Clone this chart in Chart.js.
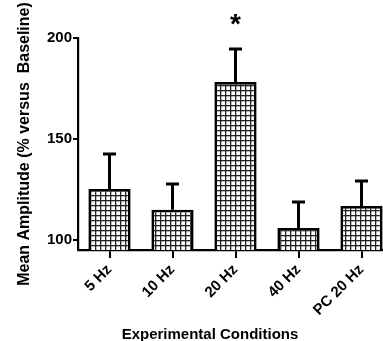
<!DOCTYPE html>
<html>
<head>
<meta charset="utf-8">
<script src="https://cdn.jsdelivr.net/npm/chart.js@4"></script>
<style>
    html, body { margin: 0; padding: 0; background: #fff; overflow: hidden; }
    #wrap { width: 383px; height: 341px; overflow: hidden; }
</style>
</head>
<body>
<div id="wrap"><canvas id="myChart" width="420" height="341"></canvas></div>
<script>
// data
const conditions = ["5 Hz", "10 Hz", "20 Hz", "40 Hz", "PC 20 Hz"];
const meanAmplitude = [125.2, 114.9, 178.2, 105.9, 116.8];
const errorUp = [17.4, 12.8, 16.4, 12.9, 12.4];
const significance = ["", "", "*", "", ""];
const yTicks = [100, 150, 200];

const FONT = "'Liberation Sans', Arial, sans-serif";

// cross hatch fill for the bars
function gridPattern() {
    const c = document.createElement("canvas");
    c.width = 5;
    c.height = 5;
    const g = c.getContext("2d");
    g.fillStyle = "#fff";
    g.fillRect(0, 0, 5, 5);
    g.fillStyle = "#222";
    g.fillRect(0, 0, 5, 1.3);
    g.fillRect(0, 0, 1.3, 5);
    return g.createPattern(c, "repeat");
}

// error bars (upper only) plus the significance star
const errorBarPlugin = {
    id: "errorBars",
    afterDatasetsDraw(chart) {
        const ctx = chart.ctx;
        const yScale = chart.scales.y;
        const meta = chart.getDatasetMeta(0);
        ctx.save();
        ctx.strokeStyle = "#000";
        ctx.lineWidth = 3;
        meta.data.forEach((bar, i) => {
            const top = yScale.getPixelForValue(meanAmplitude[i] + errorUp[i]);
            ctx.beginPath();
            ctx.moveTo(bar.x, bar.y);
            ctx.lineTo(bar.x, top);
            ctx.moveTo(bar.x - 6.5, top);
            ctx.lineTo(bar.x + 6.5, top);
            ctx.stroke();
            if (significance[i]) {
                ctx.fillStyle = "#000";
                ctx.font = "bold 28px " + FONT;
                ctx.textAlign = "center";
                ctx.textBaseline = "middle";
                ctx.fillText(significance[i], bar.x, top - 24);
            }
        });
        ctx.restore();
    }
};

const ctx = document.getElementById("myChart").getContext("2d");
new Chart(ctx, {
    type: "bar",
    data: {
        labels: conditions,
        datasets: [{
            data: meanAmplitude,
            backgroundColor: gridPattern(),
            borderColor: "#000",
            borderWidth: 2.8,
            borderSkipped: false,
            categoryPercentage: 1,
            barPercentage: 0.67
        }]
    },
    options: {
        responsive: false,
        animation: false,
        // left/right padding also centres the bottom title under the plot like the original
        layout: { padding: { top: 38, right: 27, left: 27, bottom: 0 } },
        plugins: {
            legend: { display: false },
            tooltip: { enabled: false },
            title: {
                display: true,
                position: "bottom",
                text: "Experimental Conditions",
                color: "#000",
                font: { family: FONT, size: 15, weight: "bold", lineHeight: 1.2 },
                padding: { top: 0, bottom: -3 }
            }
        },
        scales: {
            x: {
                afterFit(s) { s.height = 76; },
                grid: {
                    offset: false,
                    drawOnChartArea: false,
                    color: "#000",
                    lineWidth: 2,
                    tickLength: 8
                },
                border: { display: true, color: "#000", width: 2.2 },
                ticks: {
                    color: "#000",
                    minRotation: 45,
                    maxRotation: 45,
                    padding: 3,
                    font: { family: FONT, size: 15, weight: "bold" }
                }
            },
            y: {
                min: 95,
                max: 200,
                afterFit(s) { s.width = 51; },
                afterBuildTicks(s) { s.ticks = yTicks.map(v => ({ value: v })); },
                grid: {
                    drawOnChartArea: false,
                    color: "#000",
                    lineWidth: 2,
                    tickLength: 5
                },
                border: { display: true, color: "#000", width: 2.2 },
                ticks: {
                    color: "#000",
                    padding: 1,
                    font: { family: FONT, size: 15, weight: "bold" }
                },
                title: {
                    display: true,
                    text: "Mean Amplitude (% versus  Baseline)",
                    color: "#000",
                    padding: { top: -12, bottom: 0 },
                    font: { family: FONT, size: 16, weight: "bold", lineHeight: 1.2 }
                }
            }
        }
    },
    plugins: [errorBarPlugin]
});
</script>
</body>
</html>
